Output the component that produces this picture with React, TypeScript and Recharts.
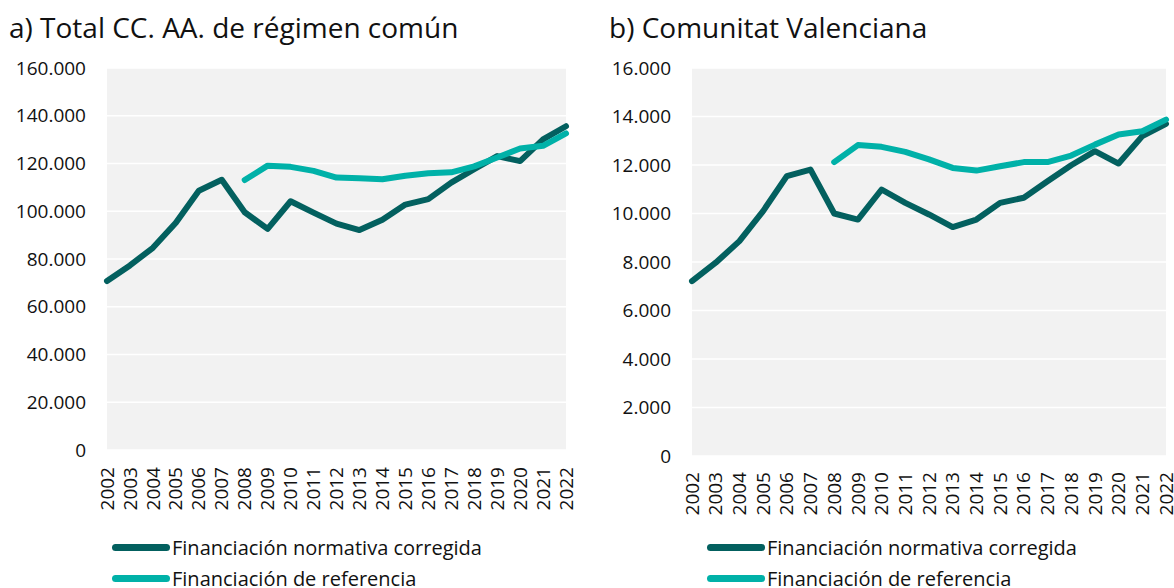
import React from "react";
import { LineChart, Line, XAxis, YAxis, CartesianGrid } from "recharts";

const years = [
  "2002", "2003", "2004", "2005", "2006", "2007", "2008", "2009", "2010", "2011", "2012",
  "2013", "2014", "2015", "2016", "2017", "2018", "2019", "2020", "2021", "2022",
];

// a) Total CC. AA. de régimen común
const totalNormativa = [
  70800, 77300, 84700, 95200, 108600, 113200, 99600, 92600, 104200, 99400, 94800,
  92100, 96400, 102800, 105100, 112000, 117600, 123100, 121000, 130100, 135600,
];
const totalReferencia = [
  null, null, null, null, null, null, 113100, 119100, 118600, 116900, 114100,
  113800, 113400, 114900, 115900, 116300, 118800, 122500, 126300, 127400, 132600,
];
const totalTicks = [0, 20000, 40000, 60000, 80000, 100000, 120000, 140000, 160000];

// b) Comunitat Valenciana
const cvNormativa = [
  7210, 7970, 8860, 10100, 11540, 11810, 10000, 9750, 10990, 10440, 9960,
  9440, 9750, 10440, 10650, 11330, 11990, 12570, 12060, 13190, 13700,
];
const cvReferencia = [
  null, null, null, null, null, null, 12120, 12820, 12750, 12540, 12230,
  11880, 11770, 11950, 12120, 12120, 12390, 12840, 13260, 13390, 13870,
];
const cvTicks = [0, 2000, 4000, 6000, 8000, 10000, 12000, 14000, 16000];

const seriesNames = ["Financiación normativa corregida", "Financiación de referencia"];
const DARK = "#03605f";
const LIGHT = "#00b1a8";
const FONT = "'Open Sans', 'Noto Sans', sans-serif";

const fmt = (v: number) => String(v).replace(/\B(?=(\d{3})+(?!\d))/g, ".");

const YearTick = ({ x, y, payload, offset }: any) => (
  <text
    x={x}
    y={y + offset}
    transform={`rotate(-90, ${x}, ${y + offset})`}
    textAnchor="end"
    dy="0.35em"
    fontSize={19}
    fill="#111"
    fontFamily={FONT}
  >
    {payload.value}
  </text>
);

interface PanelProps {
  title: string;
  left: number;
  width: number;
  normativa: (number | null)[];
  referencia: (number | null)[];
  ticks: number[];
  margin: { top: number; right: number; left: number; bottom: number };
  xHeight: number;
  tickOffset: number;
  legendX: number;
}

function Panel({ title, left, width, normativa, referencia, ticks, margin, xHeight, tickOffset, legendX }: PanelProps) {
  const data = years.map((year, i) => ({ year, normativa: normativa[i], referencia: referencia[i] }));
  return (
    <div style={{ position: "absolute", left, top: 0, width, height: 588 }}>
      <div
        style={{
          position: "absolute",
          left: 9,
          top: 9,
          fontSize: 28,
          lineHeight: "36px",
          color: "#111",
          whiteSpace: "nowrap",
        }}
      >
        {title}
      </div>
      <LineChart width={width} height={588} data={data} margin={margin}>
        <CartesianGrid vertical={false} fill="#f2f2f2" stroke="#ffffff" strokeWidth={1.5} />
        <XAxis
          dataKey="year"
          axisLine={false}
          tickLine={false}
          tickSize={0}
          tickMargin={0}
          height={xHeight}
          interval={0}
          tick={<YearTick offset={tickOffset} />}
        />
        <YAxis
          domain={[ticks[0], ticks[ticks.length - 1]]}
          ticks={ticks}
          axisLine={false}
          tickLine={false}
          tickSize={0}
          tickMargin={21}
          width={90}
          tickFormatter={fmt}
          tick={{ fontSize: 19, fill: "#111", fontFamily: FONT }}
        />
        <Line
          type="linear"
          dataKey="normativa"
          stroke={DARK}
          strokeWidth={6}
          strokeLinecap="round"
          strokeLinejoin="round"
          dot={false}
          isAnimationActive={false}
        />
        <Line
          type="linear"
          dataKey="referencia"
          stroke={LIGHT}
          strokeWidth={6}
          strokeLinecap="round"
          strokeLinejoin="round"
          dot={false}
          isAnimationActive={false}
        />
      </LineChart>
      {seriesNames.map((name, i) => (
        <div
          key={name}
          style={{
            position: "absolute",
            left: legendX,
            top: 547 + i * 31 - 13,
            height: 26,
            display: "flex",
            alignItems: "center",
            whiteSpace: "nowrap",
            fontSize: 20,
            color: "#111",
          }}
        >
          <span
            style={{
              display: "inline-block",
              width: 58,
              height: 7,
              borderRadius: 4,
              background: i === 0 ? DARK : LIGHT,
              marginRight: 2,
            }}
          />
          {name}
        </div>
      ))}
    </div>
  );
}

export default function App() {
  return (
    <div
      style={{
        position: "absolute",
        left: 0,
        top: 0,
        width: 1174,
        height: 588,
        background: "#fff",
        overflow: "hidden",
        fontFamily: FONT,
      }}
    >
      <Panel
        title="a) Total CC. AA. de régimen común"
        left={0}
        width={580}
        normativa={totalNormativa}
        referencia={totalReferencia}
        ticks={totalTicks}
        margin={{ top: 68, right: 14, left: 17, bottom: 0 }}
        xHeight={138}
        tickOffset={17}
        legendX={112}
      />
      <Panel
        title="b) Comunitat Valenciana"
        left={600}
        width={574}
        normativa={cvNormativa}
        referencia={cvReferencia}
        ticks={cvTicks}
        margin={{ top: 68, right: 8, left: 2, bottom: 0 }}
        xHeight={132}
        tickOffset={16}
        legendX={107}
      />
    </div>
  );
}
